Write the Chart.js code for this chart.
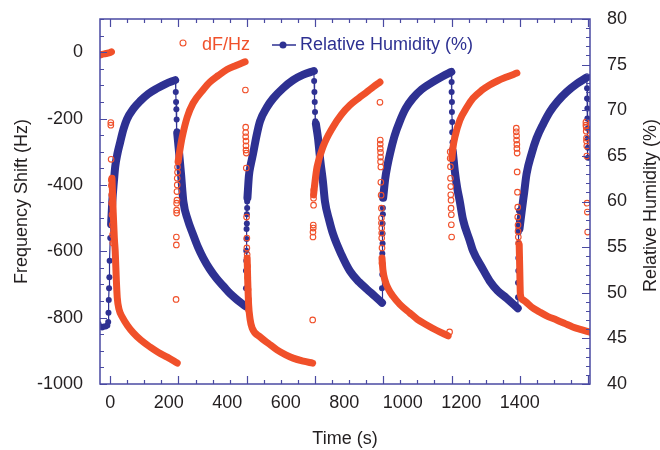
<!DOCTYPE html>
<html lang="en">
<head>
<meta charset="UTF-8">
<title>Frequency shift / Relative humidity</title>
<script src="https://cdn.jsdelivr.net/npm/chart.js@4"></script>
<style>
  html, body { margin: 0; padding: 0; background: #fff; }
  #box { width: 660px; height: 450px; }
</style>
</head>
<body>
<div id="box"><canvas id="grafico"></canvas></div>
<script>
// ---- values ----
// dense dF curve (Hz); null = break between segments
const freqTime = [
  -42, -30, -15, 0, 4, 5,
  6, 10, 14, 17, 21, 24, 30, 41, 60, 79, 105, 137, 165, 195, 229, 230,
  232, 239, 246, 263, 283, 317, 341, 370, 399, 430, 461, 465,
  468, 470, 473, 478, 485, 512, 540, 570, 600, 625, 660, 692, 694,
  695, 700, 707, 727, 761, 790, 819, 850, 877, 900, 922, 926,
  929, 932, 939, 950, 966, 990, 1024, 1050, 1082, 1115, 1155, 1162,
  1168, 1172, 1178, 1195, 1219, 1240, 1270, 1297, 1325, 1355, 1390, 1395,
  1398, 1400, 1402, 1410, 1420, 1440, 1468, 1495, 1526, 1555, 1581, 1610, 1640
];
const freqHz = [
  -10, -7, -4, -1, 1, null,
  -380, -480, -560, -600, -690, -740, -775, -798, -825, -846, -868, -889, -905, -919, -937, null,
  -330, -290, -256, -196, -154, -114, -90, -70, -52, -40, -29, null,
  -620, -690, -760, -805, -831, -858, -877, -897, -912, -922, -931, -937, null,
  -430, -390, -346, -286, -226, -188, -160, -138, -120, -104, -90, null,
  -620, -655, -687, -712, -735, -760, -786, -805, -822, -838, -855, null,
  -320, -285, -256, -205, -166, -139, -115, -99, -86, -75, -63, null,
  -580, -660, -730, -746, -752, -768, -783, -796, -807, -818, -828, -836, -844
];

// scattered dF points at each humidity switch
const freqDotTime = [
  2, 2, 3, 4, 4, 5, 5, 6, 7, 8, 9,
  225, 226, 226, 227, 227, 227, 228, 228, 229, 229, 230, 230,
  462, 463, 463, 463, 464, 464, 464, 465, 465, 466, 467, 467, 468, 469, 470, 471, 472, 473,
  692, 693, 693, 694, 694, 695, 695, 696,
  922, 923, 923, 923, 924, 924, 924, 925, 925, 926, 927, 927, 927, 928, 928, 928, 929, 929,
  1160, 1162, 1162, 1163, 1163, 1164, 1164, 1165, 1165, 1166, 1166, 1167,
  1388, 1388, 1389, 1389, 1390, 1390, 1391, 1391, 1392, 1393, 1393, 1394, 1394, 1395, 1396,
  1626, 1626, 1627, 1627, 1628, 1628, 1629, 1629, 1630, 1631, 1632
];
const freqDotHz = [
  -212, -220, -323, -385, -402, -430, -455, -490, -520, -550, -575,
  -745, -581, -557, -485, -476, -455, -446, -420, -400, -380, -362, -346,
  -114, -226, -242, -255, -268, -282, -295, -304, -349, -497, -560, -590, -610, -645, -680, -715, -745, -777,
  -807, -557, -542, -530, -521, -461, -440, -415,
  -151, -265, -277, -290, -302, -316, -330, -346, -392, -431, -470, -500, -515, -530, -545, -560, -590, -636,
  -843, -300, -320, -345, -380, -405, -430, -446, -470, -490, -520, -557,
  -229, -240, -252, -265, -278, -290, -304, -361, -422, -467, -497, -521, -540, -557, -575,
  -211, -220, -226, -238, -259, -268, -283, -313, -455, -482, -542
];

// smooth RH curve (%); null = break
const rhTime = [
  3, 7, 12, 17, 25, 34, 45, 57, 80, 102, 130, 160, 190, 222, 226,
  229, 235, 242, 250, 265, 283, 300, 318, 340, 365, 390, 410, 435, 463, 466,
  469, 474, 480, 488, 500, 512, 535, 557, 590, 625, 660, 696, 700,
  703, 710, 718, 727, 734, 748, 762, 790, 819, 850, 877, 905, 929, 931,
  933, 940, 948, 956, 972, 990, 1010, 1034, 1065, 1103, 1135, 1166, 1168,
  1171, 1178, 1186, 1195, 1206, 1229, 1240, 1270, 1297, 1325, 1355, 1393, 1396,
  1399, 1406, 1415, 1423, 1440, 1457, 1480, 1502, 1530, 1560, 1595, 1629
];
const rhPct = [
  57.5, 60, 62, 63.8, 65.3, 66.5, 67.9, 69.0, 70.2, 71.0, 71.8, 72.4, 72.9, 73.3, null,
  67.5, 65.5, 63.0, 60.0, 58.0, 56.4, 55.0, 53.8, 52.6, 51.5, 50.6, 49.9, 49.2, 48.5, null,
  60.4, 62.8, 64.0, 65.2, 67.2, 68.8, 70.3, 71.3, 72.4, 73.3, 73.9, 74.3, null,
  68.5, 67.0, 64.5, 62.2, 60.0, 58.0, 56.4, 54.2, 52.4, 51.2, 50.4, 49.6, 48.9, null,
  60.4, 62.5, 64.0, 65.2, 67.2, 68.8, 70.2, 71.3, 72.3, 73.1, 73.7, 74.2, null,
  65.5, 63.3, 61.5, 60.0, 58.0, 55.7, 54.6, 52.8, 51.3, 50.2, 49.4, 48.3, null,
  57.0, 58.8, 61.0, 63.0, 65.2, 66.9, 68.5, 69.8, 71.0, 72.0, 72.9, 73.6
];

// RH dots (start flat part + the fast jumps)
const rhDotTime = [
  -40, -34, -28, -22, -16, -10, -7, -6, -5, -4, -3, -2, 0, 2, 3,
  223, 224, 225, 226, 227, 228, 228,
  463, 464, 464, 465, 465, 466, 466, 467, 467, 468, 468, 468,
  696, 697, 698, 699, 700, 701, 701,
  929, 929, 930, 930, 930, 931, 931, 931, 932, 932, 932,
  1166, 1167, 1167, 1168, 1168, 1169, 1169, 1170, 1170, 1170,
  1393, 1394, 1394, 1395, 1395, 1396, 1396, 1397, 1397, 1397,
  1629, 1630, 1630, 1631, 1631, 1632, 1632, 1633, 1633
];
const rhDotPct = [
  46.6, 46.3, 46.2, 46.3, 46.3, 46.4, 46.8, 47.8, 49.2, 50.5, 51.7, 53.5, 56.0, 58.0, null,
  73.3, 72.0, 70.9, 70.1, 69.0, 67.7, null,
  48.5, 50.5, 52.4, 53.5, 54.6, 55.9, 57.0, 57.6, 58.6, 59.3, 60.0, null,
  74.3, 73.2, 72.0, 70.9, 69.8, 68.8, null,
  48.9, 50.5, 52.0, 53.2, 54.3, 55.4, 56.5, 57.6, 58.6, 59.3, null,
  74.2, 73.1, 72.0, 70.9, 69.8, 68.7, 67.6, 66.5, 65.8, null,
  48.3, 49.5, 51.1, 52.4, 53.8, 55.4, 56.6, 57.9, 59.0, null,
  73.6, 72.4, 71.3, 70.2, 69.1, 68.0, 66.9, 65.9, 64.8
];

const xTickLabels = [0, 200, 400, 600, 800, 1000, 1200, 1400];
const hzTickLabels = [0, -200, -400, -600, -800, -1000];
const rhTickLabels = [40, 45, 50, 55, 60, 65, 70, 75, 80];

// ---- style ----
const laranja = '#f0502a';
const azul = '#2e3192';
const corEixo = '#4a4aa2';
const corTexto = '#231f20';
const fonte = "'Liberation Sans', Arial, sans-serif";
const xMinorStep = 1400 / 24;   // tick marks of the original time axis

function pontos(ts, vs) {
  return ts.map((t, i) => ({ x: t, y: vs[i] }));
}

// box + inward tick marks on all four sides
const moldura = {
  id: 'moldura',
  afterDatasetsDraw(chart) {
    const { ctx, chartArea: a } = chart;
    const sx = chart.scales.x, sy = chart.scales.y, sy2 = chart.scales.y2;
    ctx.save();
    ctx.strokeStyle = corEixo;
    ctx.lineWidth = 1.2;
    ctx.beginPath();
    for (let k = 0; k * xMinorStep <= sx.max; k++) {
      const px = Math.round(sx.getPixelForValue(k * xMinorStep)) + 0.5;
      const len = k % 4 === 0 ? 8 : 4;
      ctx.moveTo(px, a.bottom); ctx.lineTo(px, a.bottom - len);
      ctx.moveTo(px, a.top); ctx.lineTo(px, a.top + len);
    }
    for (let v = sy.min; v <= sy.max; v += 50) {
      const py = Math.round(sy.getPixelForValue(v)) + 0.5;
      const len = v % 200 === 0 ? 7 : 4;
      ctx.moveTo(a.left, py); ctx.lineTo(a.left + len, py);
    }
    for (let v = sy2.min; v <= sy2.max; v += 1) {
      const py = Math.round(sy2.getPixelForValue(v)) + 0.5;
      const len = v % 5 === 0 ? 8 : 4;
      ctx.moveTo(a.right, py); ctx.lineTo(a.right - len, py);
    }
    ctx.stroke();
    ctx.lineWidth = 1.5;
    ctx.strokeRect(a.left, a.top, a.right - a.left, a.bottom - a.top);
    ctx.restore();
  },
  afterDraw(chart) {
    const { ctx, chartArea: a } = chart;
    ctx.save();
    // legend
    const ly = a.top + 26;
    ctx.font = '18px ' + fonte;
    ctx.textBaseline = 'middle';
    ctx.strokeStyle = laranja;
    ctx.lineWidth = 1.1;
    ctx.beginPath();
    ctx.arc(a.left + 83, ly - 2, 3, 0, Math.PI * 2);
    ctx.stroke();
    ctx.fillStyle = laranja;
    ctx.fillText('dF/Hz', a.left + 102, ly);
    ctx.strokeStyle = azul;
    ctx.lineWidth = 1.5;
    ctx.beginPath();
    ctx.moveTo(a.left + 172, ly); ctx.lineTo(a.left + 196, ly);
    ctx.stroke();
    ctx.fillStyle = azul;
    ctx.beginPath();
    ctx.arc(a.left + 183, ly, 3.5, 0, Math.PI * 2);
    ctx.fill();
    ctx.fillText('Relative Humidity (%)', a.left + 200, ly);
    // right axis title, reading bottom to top
    ctx.translate(651, (a.top + a.bottom) / 2 + 4);
    ctx.rotate(-Math.PI / 2);
    ctx.textAlign = 'center';
    ctx.fillStyle = corTexto;
    ctx.fillText('Relative Humidity (%)', 0, 0);
    ctx.restore();
  }
};

const tickFont = { family: fonte, size: 18 };
const semVirgula = v => String(v);
// fixed axis boxes so the plot area lands where it is in the figure
const larguraFixa = w => s => { s.width = w; s.paddingTop = 0; s.paddingBottom = 0; };

new Chart(document.getElementById('grafico'), {
  type: 'line',
  data: {
    datasets: [
      {
        label: 'dF/Hz',
        data: pontos(freqDotTime, freqDotHz),
        yAxisID: 'y',
        showLine: false,
        pointStyle: 'circle',
        pointRadius: 2.8,
        pointBorderWidth: 1.1,
        pointBorderColor: laranja,
        pointBackgroundColor: 'rgba(255,255,255,0)'
      },
      {
        label: 'dF curve',
        data: pontos(freqTime, freqHz),
        yAxisID: 'y',
        borderColor: laranja,
        borderWidth: 7,
        borderCapStyle: 'round',
        borderJoinStyle: 'round',
        cubicInterpolationMode: 'monotone',
        pointRadius: 0,
        spanGaps: false
      },
      {
        label: 'Relative Humidity (%)',
        data: pontos(rhDotTime, rhDotPct),
        yAxisID: 'y2',
        borderColor: azul,
        borderWidth: 1.2,
        tension: 0,
        pointRadius: 3,
        pointBorderWidth: 0,
        pointBackgroundColor: azul,
        spanGaps: false
      },
      {
        label: 'RH curve',
        data: pontos(rhTime, rhPct),
        yAxisID: 'y2',
        borderColor: azul,
        borderWidth: 8,
        borderCapStyle: 'round',
        borderJoinStyle: 'round',
        cubicInterpolationMode: 'monotone',
        pointRadius: 0,
        spanGaps: false
      }
    ]
  },
  options: {
    responsive: true,
    maintainAspectRatio: false,
    animation: false,
    devicePixelRatio: 1,
    layout: { padding: { top: 19, left: 0, right: 0, bottom: 0 } },
    plugins: { legend: { display: false }, tooltip: { enabled: false } },
    scales: {
      x: {
        type: 'linear',
        min: -35,
        max: 1640,
        grid: { display: false, drawTicks: false },
        border: { display: false },
        afterBuildTicks: s => { s.ticks = xTickLabels.map(v => ({ value: v })); },
        afterFit: s => { s.height = 66; s.paddingLeft = 0; s.paddingRight = 0; },
        ticks: { font: tickFont, color: corTexto, padding: 8, autoSkip: false, maxRotation: 0, callback: semVirgula },
        title: { display: true, text: 'Time (s)', font: tickFont, color: corTexto, padding: { top: 0, bottom: 0 } }
      },
      y: {
        position: 'left',
        min: -1000,
        max: 100,
        grid: { display: false, drawTicks: false },
        border: { display: false },
        afterBuildTicks: s => { s.ticks = hzTickLabels.map(v => ({ value: v })); },
        afterFit: larguraFixa(100),
        ticks: { font: tickFont, color: corTexto, padding: 17, callback: semVirgula },
        title: { display: true, text: 'Frequency Shift (Hz)', font: tickFont, color: corTexto, padding: { top: 11, bottom: 0 } }
      },
      y2: {
        position: 'right',
        min: 40,
        max: 80,
        grid: { display: false, drawTicks: false },
        border: { display: false },
        afterBuildTicks: s => { s.ticks = rhTickLabels.map(v => ({ value: v })); },
        afterFit: larguraFixa(70),
        ticks: { font: tickFont, color: corTexto, padding: 17, callback: semVirgula }
      }
    }
  },
  plugins: [moldura]
});
</script>
</body>
</html>
